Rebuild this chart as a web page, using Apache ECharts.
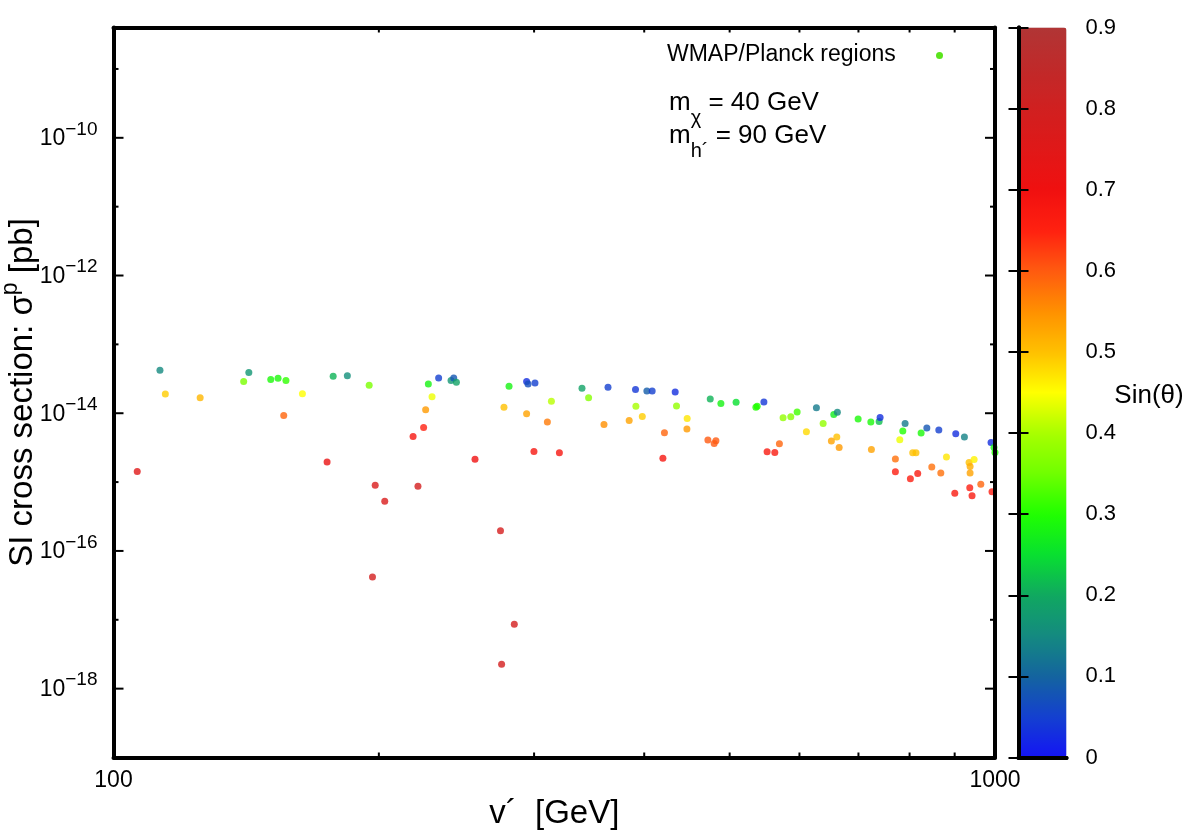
<!DOCTYPE html>
<html><head><meta charset="utf-8">
<script src="https://cdn.jsdelivr.net/npm/echarts@6/dist/echarts.min.js"></script>
<style>html,body{margin:0;padding:0;background:#fff}#c{width:1186px;height:830px}</style>
</head><body><div id="c"></div>
<script>
// ---- data ----
const vPrime = [
  112.9,114.5,125.4,140.5,142.4,150.8,153.7,156.9,163.8,156.0,177.5,184.2,195.0,106.4,174.7,198.1,203.1,
  227.6,233.8,241.5,243.2,244.9,229.8,226.0,224.8,218.7,221.5,257.1,281.0,294.2,295.3,300.7,277.3,294.2,
  313.9,310.6,299.9,320.5,340.0,345.9,363.9,360.1,391.0,402.8,408.4,391.4,384.6,398.0,433.7,435.2,447.5,
  447.2,421.7,420.0,
  475.3,488.7,508.5,535.5,537.3,546.8,574.9,586.6,596.4,627.2,656.3,662.5,638.3,611.0,661.5,652.2,665.6,
  472.4,482.4,480.2,569.4,551.4,562.6,699.4,723.0,738.8,740.7,724.1,790.7,786.0,824.5,836.9,863.5,902.6,
  923.2,779.8,770.9,806.6,813.5,880.9,847.8,868.0,934.5,946.9,937.0,937.0,963.6,770.9,801.7,817.2,900.3,
  936.2,941.8,992.2,989.7,997.4,1000.0,
  274.8,196.7,284.9,275.6
];
const sigmaSI = [
  4.2e-14,1.9e-14,1.68e-14,2.88e-14,3.89e-14,3.08e-14,3.21e-14,2.98e-14,1.92e-14,9.3e-15,3.43e-14,3.51e-14,2.54e-14,1.42e-15,1.96e-15,9.0e-16,5.26e-16,
  2.66e-14,3.26e-14,3.0e-14,3.26e-14,2.81e-14,1.74e-14,1.12e-14,6.21e-15,4.59e-15,8.7e-16,2.15e-15,2.46e-14,2.9e-14,2.66e-14,2.75e-14,1.22e-14,9.8e-15,
  1.49e-14,7.44e-15,2.77e-15,2.66e-15,2.30e-14,1.68e-14,2.38e-14,6.87e-15,2.22e-14,2.11e-14,2.11e-14,1.26e-14,7.85e-15,8.98e-15,2.04e-14,1.27e-14,8.4e-15,
  5.89e-15,5.2e-15,2.22e-15,
  1.61e-14,1.39e-14,1.44e-14,1.22e-14,1.26e-14,1.46e-14,8.6e-15,8.89e-15,1.04e-14,1.2e-14,9.6e-15,1.03e-14,7.1e-15,5.37e-15,4.5e-15,3.94e-15,3.18e-15,
  4.07e-15,3.98e-15,3.63e-15,3.59e-15,2.75e-15,2.68e-15,8.23e-15,7.44e-15,7.6e-15,8.69e-15,2.97e-15,7.1e-15,5.5e-15,5.15e-15,6.08e-15,5.69e-15,5.03e-15,
  4.5e-15,4.11e-15,2.17e-15,2.66e-15,2.66e-15,2.32e-15,1.66e-15,1.36e-15,1.92e-15,2.12e-15,1.68e-15,1.36e-15,9.3e-16,1.41e-15,1.12e-15,1.33e-15,6.87e-16,
  8.3e-16,6.34e-16,7.25e-16,3.75e-15,3.18e-15,2.68e-15,
  1.96e-16,4.19e-17,8.65e-18,2.26e-18
];
const sinTheta = [
  0.15,0.49,0.51,0.36,0.17,0.29,0.29,0.31,0.45,0.59,0.21,0.16,0.36,0.75,0.72,0.77,0.77,
  0.28,0.05,0.17,0.08,0.19,0.44,0.54,0.65,0.68,0.79,0.70,0.28,0.03,0.07,0.05,0.50,0.53,
  0.41,0.57,0.68,0.68,0.19,0.37,0.05,0.55,0.04,0.09,0.05,0.40,0.53,0.49,0.03,0.38,0.47,
  0.54,0.59,0.68,
  0.21,0.28,0.25,0.30,0.30,0.04,0.38,0.37,0.32,0.13,0.27,0.15,0.38,0.48,0.50,0.53,0.54,
  0.60,0.60,0.60,0.59,0.67,0.67,0.29,0.29,0.22,0.03,0.53,0.13,0.30,0.29,0.08,0.05,0.03,
  0.14,0.44,0.58,0.50,0.50,0.47,0.58,0.58,0.50,0.46,0.52,0.53,0.59,0.66,0.66,0.67,0.67,
  0.66,0.67,0.66,0.03,0.28,0.30,
  0.78,0.79,0.79,0.79
];
const xMinorTicks = [200,300,400,500,600,700,800,900];
const yMajorTicks = [1e-18,1e-16,1e-14,1e-12,1e-10];
const yMinorTicks = [1e-17,1e-15,1e-13,1e-11,1e-9];
const paletteColors = ['#1414f5','#1440d0','#14649f','#148a80','#10a860','#08e030','#20ff00','#70ff00','#a8ff00','#ffff00',
  '#ffc000','#ff9000','#ff5a10','#ff2010','#f01010','#e01818','#d02020','#c02a2a','#b03535'];
const seriesName = 'WMAP/Planck regions';

const FONT = 'Liberation Sans, Arial, sans-serif';
const points = vPrime.map((v, i) => [v, sigmaSI[i], sinTheta[i]]);
const frame = {show: true, lineStyle: {color: '#000', width: 4}};
const TICK = {stroke: '#000', lineWidth: 2};

function expLabel(val) {
  const r = Math.round(Math.log10(val));
  return '{b|10}{s|' + (r < 0 ? '\u2212' + (-r) : r) + '}';
}

const chart = echarts.init(document.getElementById('c'), null, {renderer: 'canvas'});
chart.setOption({
  backgroundColor: '#fff',
  animation: false,
  textStyle: {fontFamily: FONT, color: '#000'},
  grid: [
    {left: 113.5, right: 191, top: 27.5, bottom: 72.5, outerBoundsMode: 'none', containLabel: false},
    {left: 1018.5, width: 48, top: 27.5, bottom: 72.5, outerBoundsMode: 'none', containLabel: false}
  ],
  xAxis: [
    {type: 'log', gridIndex: 0, min: 100, max: 1000, position: 'bottom', z: 5,
     axisLine: frame, axisTick: {show: false},
     axisLabel: {fontSize: 23, color: '#000', margin: 12, fontFamily: FONT,
                 formatter: v => String(Math.round(v))},
     splitLine: {show: false},
     name: 'v\u00b4  [GeV]', nameLocation: 'middle', nameGap: 36,
     nameTextStyle: {fontSize: 33, color: '#000', fontFamily: FONT}},
    {type: 'log', gridIndex: 0, min: 100, max: 1000, position: 'top', z: 5,
     axisLine: frame, axisTick: {show: false},
     axisLabel: {show: false}, splitLine: {show: false}},
    {type: 'value', gridIndex: 1, min: 0, max: 1, position: 'bottom', z: 10,
     axisLine: frame, axisTick: {show: false}, axisLabel: {show: false}, splitLine: {show: false}},
    {type: 'value', gridIndex: 1, min: 0, max: 1, position: 'top', z: 10,
     axisLine: frame, axisTick: {show: false}, axisLabel: {show: false}, splitLine: {show: false}}
  ],
  yAxis: [
    {type: 'log', gridIndex: 0, min: 1e-19, max: 4e-9, position: 'left', z: 5,
     axisLine: frame, axisTick: {show: false}, axisLabel: {show: false},
     splitLine: {show: false},
     name: '{n|SI cross section: \u03c3}{p|p}{n| [pb]}', nameLocation: 'middle', nameGap: 68, nameRotate: 90,
     nameTextStyle: {rich: {n: {fontSize: 33, lineHeight: 46, fontFamily: FONT, color: '#000'},
                            p: {fontSize: 23, lineHeight: 24, verticalAlign: 'top', fontFamily: FONT, color: '#000'}}}},
    {type: 'log', gridIndex: 0, min: 1e-19, max: 4e-9, position: 'right', z: 5,
     axisLine: frame, axisTick: {show: false},
     axisLabel: {show: false}, splitLine: {show: false}},
    {type: 'value', gridIndex: 1, min: 0, max: 0.9, interval: 0.1, position: 'right', z: 10,
     axisLine: frame, axisTick: {inside: true, length: 10, lineStyle: {color: '#000', width: 2}},
     axisLabel: {fontSize: 22, color: '#000', margin: 19, fontFamily: FONT},
     splitLine: {show: false}},
    {type: 'value', gridIndex: 1, min: 0, max: 0.9, interval: 0.1, position: 'left', z: 10,
     axisLine: frame, axisTick: {inside: true, length: 10, lineStyle: {color: '#000', width: 2}},
     axisLabel: {show: false}, splitLine: {show: false}}
  ],
  visualMap: {
    type: 'continuous', min: 0, max: 0.9, dimension: 2, seriesIndex: 0,
    calculable: false, hoverLink: false, orient: 'vertical',
    left: 1018.5, top: 27.5, itemWidth: 48, itemHeight: 730, padding: 0,
    text: null, showLabel: false,
    inRange: {color: paletteColors}
  },
  series: [
    {name: seriesName, type: 'scatter', xAxisIndex: 0, yAxisIndex: 0, data: points,
     symbol: 'circle', symbolSize: 7, z: 2},
    // x minor ticks (bottom + top)
    {type: 'custom', xAxisIndex: 0, yAxisIndex: 0, silent: true, clip: false, z: 6,
     data: xMinorTicks.map(v => [v, 1e-14]),
     renderItem: function (params, api) {
       const cs = params.coordSys;
       const x = api.coord([api.value(0), api.value(1)])[0];
       return {type: 'group', children: [
         {type: 'line', shape: {x1: x, y1: cs.y + cs.height, x2: x, y2: cs.y + cs.height - 5}, style: TICK},
         {type: 'line', shape: {x1: x, y1: cs.y, x2: x, y2: cs.y + 5}, style: TICK}
       ]};
     }},
    // y minor ticks (left + right)
    {type: 'custom', xAxisIndex: 0, yAxisIndex: 0, silent: true, clip: false, z: 6,
     data: yMinorTicks.map(s => [200, s]),
     renderItem: function (params, api) {
       const cs = params.coordSys;
       const y = api.coord([api.value(0), api.value(1)])[1];
       return {type: 'group', children: [
         {type: 'line', shape: {x1: cs.x, y1: y, x2: cs.x + 5, y2: y}, style: TICK},
         {type: 'line', shape: {x1: cs.x + cs.width, y1: y, x2: cs.x + cs.width - 5, y2: y}, style: TICK}
       ]};
     }},
    // y major ticks + labels
    {type: 'custom', xAxisIndex: 0, yAxisIndex: 0, silent: true, clip: false, z: 6,
     data: yMajorTicks.map(s => [200, s]),
     renderItem: function (params, api) {
       const cs = params.coordSys;
       const val = api.value(1);
       const y = api.coord([api.value(0), val])[1];
       return {type: 'group', children: [
         {type: 'line', shape: {x1: cs.x, y1: y, x2: cs.x + 10, y2: y}, style: TICK},
         {type: 'line', shape: {x1: cs.x + cs.width, y1: y, x2: cs.x + cs.width - 10, y2: y}, style: TICK},
         {type: 'text', x: cs.x - 16, y: y + 1, style: {
            text: expLabel(val), align: 'right', verticalAlign: 'middle',
            rich: {b: {fontSize: 23, lineHeight: 38, fontFamily: FONT, fill: '#000'},
                   s: {fontSize: 19, lineHeight: 20, verticalAlign: 'top', fontFamily: FONT, fill: '#000'}}}}
       ]};
     }}
  ],
  graphic: [
    {type: 'text', left: 667, top: 43, style: {text: seriesName, fontSize: 23, fontFamily: FONT, fill: '#000'}},
    {type: 'circle', shape: {cx: 939.5, cy: 55.5, r: 3.5}, style: {fill: '#5ae41c'}},
    {type: 'text', x: 669, y: 78, style: {text: '{a|m}{s|\u03c7}{a| = 40 GeV}', verticalAlign: 'top', fill: '#000',
      rich: {a: {fontSize: 26, lineHeight: 50, fontFamily: FONT, fill: '#000'},
             s: {fontSize: 20, lineHeight: 30, verticalAlign: 'bottom', fontFamily: FONT, fill: '#000'}}}},
    {type: 'text', x: 669, y: 111, style: {text: '{a|m}{s|h\u00b4}{a| = 90 GeV}', verticalAlign: 'top', fill: '#000',
      rich: {a: {fontSize: 26, lineHeight: 50, fontFamily: FONT, fill: '#000'},
             s: {fontSize: 20, lineHeight: 30, verticalAlign: 'bottom', fontFamily: FONT, fill: '#000'}}}},
    {type: 'text', x: 1149, y: 396, style: {text: 'Sin(\u03b8)', fontSize: 26, fontFamily: FONT, fill: '#000',
      align: 'center', verticalAlign: 'middle'}}
  ]
});
</script></body></html>
